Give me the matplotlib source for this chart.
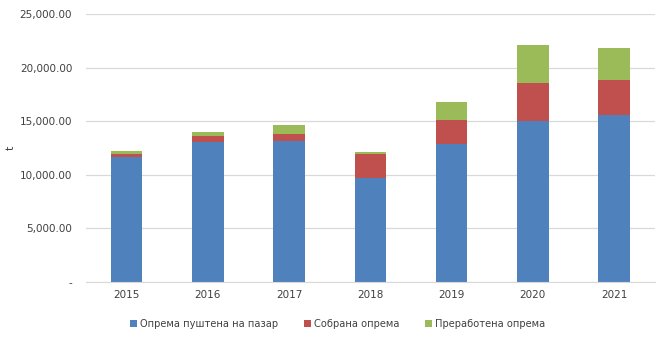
import matplotlib.pyplot as plt
import numpy as np
from matplotlib.ticker import FuncFormatter

years = ['2015', '2016', '2017', '2018', '2019', '2020', '2021']
placed = [11630, 13060, 13120, 9720, 12870, 15020, 15580]
collected = [310, 560, 690, 2220, 2240, 3540, 3260]
processed = [280, 370, 840, 170, 1680, 3550, 2990]
labels = ['Опрема пуштена на пазар', 'Собрана опрема', 'Преработена опрема']
colors = ['#4F81BD', '#C0504D', '#9BBB59']


def fmt(v, pos):
    if v == 0:
        return '-'
    return '{:,.2f}'.format(v)


fig = plt.figure(figsize=(6.69, 3.44), dpi=100)
ax = fig.add_axes([0.1286, 0.180, 0.850, 0.779])

x = np.arange(len(years))
bottom = np.zeros(len(years))
for vals, lab, c in zip([placed, collected, processed], labels, colors):
    ax.bar(x, vals, 0.39, bottom=bottom, color=c, label=lab, zorder=2)
    bottom += np.array(vals)

ax.set_xlim(-0.5, 6.5)
ax.set_ylim(0, 25000)
ax.set_yticks(np.arange(0, 25001, 5000))
ax.yaxis.set_major_formatter(FuncFormatter(fmt))
ax.set_xticks(x)
ax.set_xticklabels(years)
ax.grid(axis='y', color='#d9d9d9', linewidth=0.9, zorder=0)
for s in ['top', 'right', 'left']:
    ax.spines[s].set_visible(False)
ax.spines['bottom'].set_color('#d9d9d9')
ax.tick_params(length=0, labelsize=7.5, colors='#404040')
ax.tick_params(axis='y', pad=10)
ax.tick_params(axis='x', pad=6)
ax.set_ylabel('t', fontsize=8, color='#404040', labelpad=2)
ax.yaxis.set_label_coords(-0.123, 0.5)

fig.legend(loc='center', bbox_to_anchor=(0.505, 0.058), ncol=3, frameon=False,
           fontsize=7.1, handlelength=0.7, handleheight=0.7, handletextpad=0.3,
           columnspacing=2.6, labelcolor='#404040')

fig.savefig('out.png', dpi=100)
